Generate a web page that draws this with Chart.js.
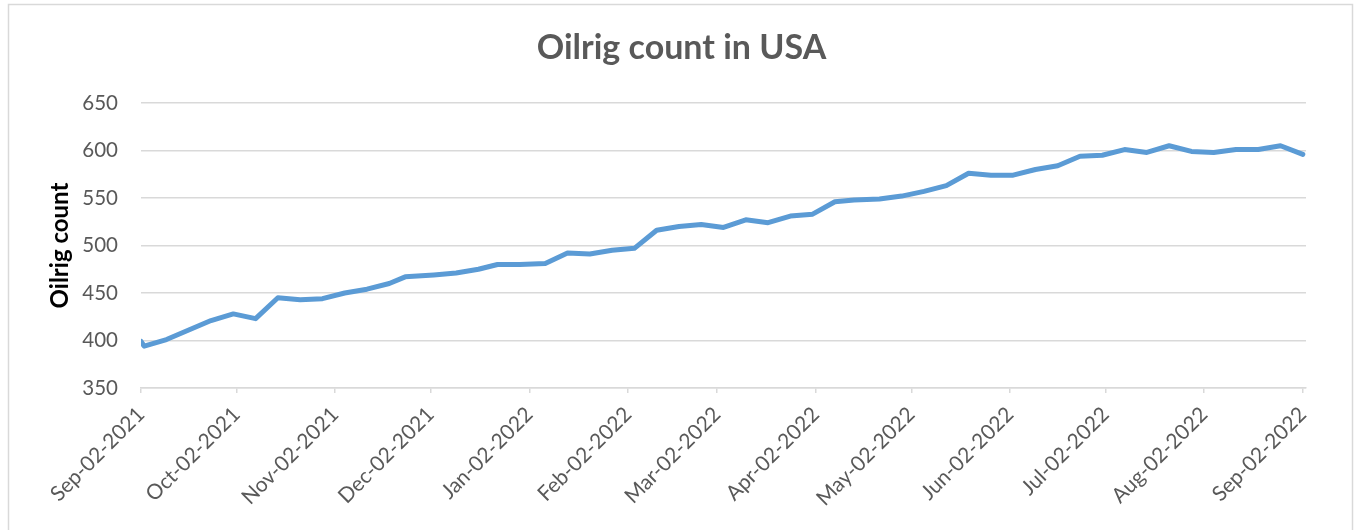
<!DOCTYPE html>
<html>
<head>
<meta charset="utf-8">
<script src="https://cdn.jsdelivr.net/npm/chart.js@4.4.1/dist/chart.umd.min.js"></script>
<style>
  html, body { margin: 0; padding: 0; background: #ffffff; }
  #wrap { width: 1356px; height: 530px; position: relative; }
</style>
</head>
<body>
<div id="wrap"><canvas id="c" width="1356" height="530"></canvas></div>
<script>
const chartTitle = "Oilrig count in USA";
const yAxisTitle = "Oilrig count";
const dates = [
  "2021-09-02","2021-09-03","2021-09-10","2021-09-17","2021-09-24","2021-10-01","2021-10-08",
  "2021-10-15","2021-10-22","2021-10-29","2021-11-05","2021-11-12","2021-11-19","2021-11-24",
  "2021-12-03","2021-12-10","2021-12-17","2021-12-23","2021-12-30","2022-01-07","2022-01-14",
  "2022-01-21","2022-01-28","2022-02-04","2022-02-11","2022-02-18","2022-02-25","2022-03-04",
  "2022-03-11","2022-03-18","2022-03-25","2022-04-01","2022-04-08","2022-04-14","2022-04-22",
  "2022-04-29","2022-05-06","2022-05-13","2022-05-20","2022-05-27","2022-06-03","2022-06-10",
  "2022-06-17","2022-06-24","2022-07-01","2022-07-08","2022-07-15","2022-07-22","2022-07-29",
  "2022-08-05","2022-08-12","2022-08-19","2022-08-26","2022-09-02"
];
const oilRigCount = [
  399,394,401,411,421,428,423,
  445,443,444,450,454,460,467,
  469,471,475,480,480,481,492,
  491,495,497,516,520,522,519,
  527,524,531,533,546,548,549,
  552,557,563,576,574,574,580,
  584,594,595,601,598,605,599,
  598,601,601,605,596
];
const tickDates = [
  "2021-09-02","2021-10-02","2021-11-02","2021-12-02","2022-01-02","2022-02-02","2022-03-02",
  "2022-04-02","2022-05-02","2022-06-02","2022-07-02","2022-08-02","2022-09-02"
];
const tickLabels = [
  "Sep-02-2021","Oct-02-2021","Nov-02-2021","Dec-02-2021","Jan-02-2022","Feb-02-2022","Mar-02-2022",
  "Apr-02-2022","May-02-2022","Jun-02-2022","Jul-02-2022","Aug-02-2022","Sep-02-2022"
];
const axisStart = "2021-09-02";
const axisEnd = "2022-09-03";
const yTicks = [350, 400, 450, 500, 550, 600, 650];

const DAY = 86400000;
const dayOf = s => (Date.parse(s + "T00:00:00Z") - Date.parse(axisStart + "T00:00:00Z")) / DAY;
const points = dates.map((d, i) => ({ x: dayOf(d), y: oilRigCount[i] }));
const tickPos = tickDates.map(dayOf);
const labelAt = {};
tickPos.forEach((p, i) => { labelAt[p] = tickLabels[i]; });

const FONT = "Lato, Carlito, 'Open Sans', sans-serif";
const GRID = "#d9d9d9";
const TXT = "#595959";

const borderPlugin = {
  id: 'outerBorder',
  beforeDraw(chart) {
    const ctx = chart.ctx;
    ctx.save();
    ctx.fillStyle = '#ffffff';
    ctx.fillRect(0, 0, chart.width, chart.height);
    ctx.strokeStyle = GRID;
    ctx.lineWidth = 1.5;
    ctx.strokeRect(8.5, 4.5, 1344, 560);
    ctx.restore();
  }
};

new Chart(document.getElementById('c'), {
  type: 'line',
  data: {
    datasets: [{
      label: yAxisTitle,
      data: points,
      borderColor: '#5B9BD5',
      backgroundColor: '#5B9BD5',
      borderWidth: 5,
      pointRadius: 0,
      pointHoverRadius: 0,
      tension: 0,
      borderJoinStyle: 'round',
      borderCapStyle: 'round',
      fill: false
    }]
  },
  options: {
    responsive: false,
    animation: false,
    devicePixelRatio: 1,
    layout: { padding: { left: 57, right: 50, top: 4, bottom: 0 } },
    plugins: {
      legend: { display: false },
      tooltip: { enabled: false },
      title: {
        display: true,
        text: chartTitle,
        color: TXT,
        font: { family: FONT, size: 34, weight: 'bold', lineHeight: 1.2 },
        padding: { top: 23.6, bottom: 34.6 }
      }
    },
    scales: {
      x: {
        type: 'linear',
        min: 0,
        max: dayOf(axisEnd),
        afterBuildTicks(scale) { scale.ticks = tickPos.map(v => ({ value: v })); },
        afterFit(scale) { scale.height = 142; },
        ticks: {
          autoSkip: false,
          maxRotation: 45,
          minRotation: 45,
          color: TXT,
          padding: 9,
          font: { family: FONT, size: 21 },
          callback: (v) => labelAt[v] || ''
        },
        grid: {
          drawOnChartArea: false,
          drawTicks: true,
          tickLength: 5,
          color: GRID,
          lineWidth: 1.5
        },
        border: { display: true, color: GRID, width: 1.5 }
      },
      y: {
        min: 350,
        max: 650,
        afterBuildTicks(scale) { scale.ticks = yTicks.map(v => ({ value: v })); },
        afterFit(scale) { scale.width = 84; },
        ticks: {
          color: TXT,
          padding: 23,
          font: { family: FONT, size: 20.5 }
        },
        grid: { color: GRID, lineWidth: 1.5, drawTicks: false },
        border: { display: false },
        title: {
          display: true,
          text: yAxisTitle,
          color: '#000000',
          font: { family: FONT, size: 24, weight: 'bold', lineHeight: 1.2 },
          padding: { top: -11.4, bottom: 0 }
        }
      }
    }
  },
  plugins: [borderPlugin]
});
</script>
</body>
</html>
